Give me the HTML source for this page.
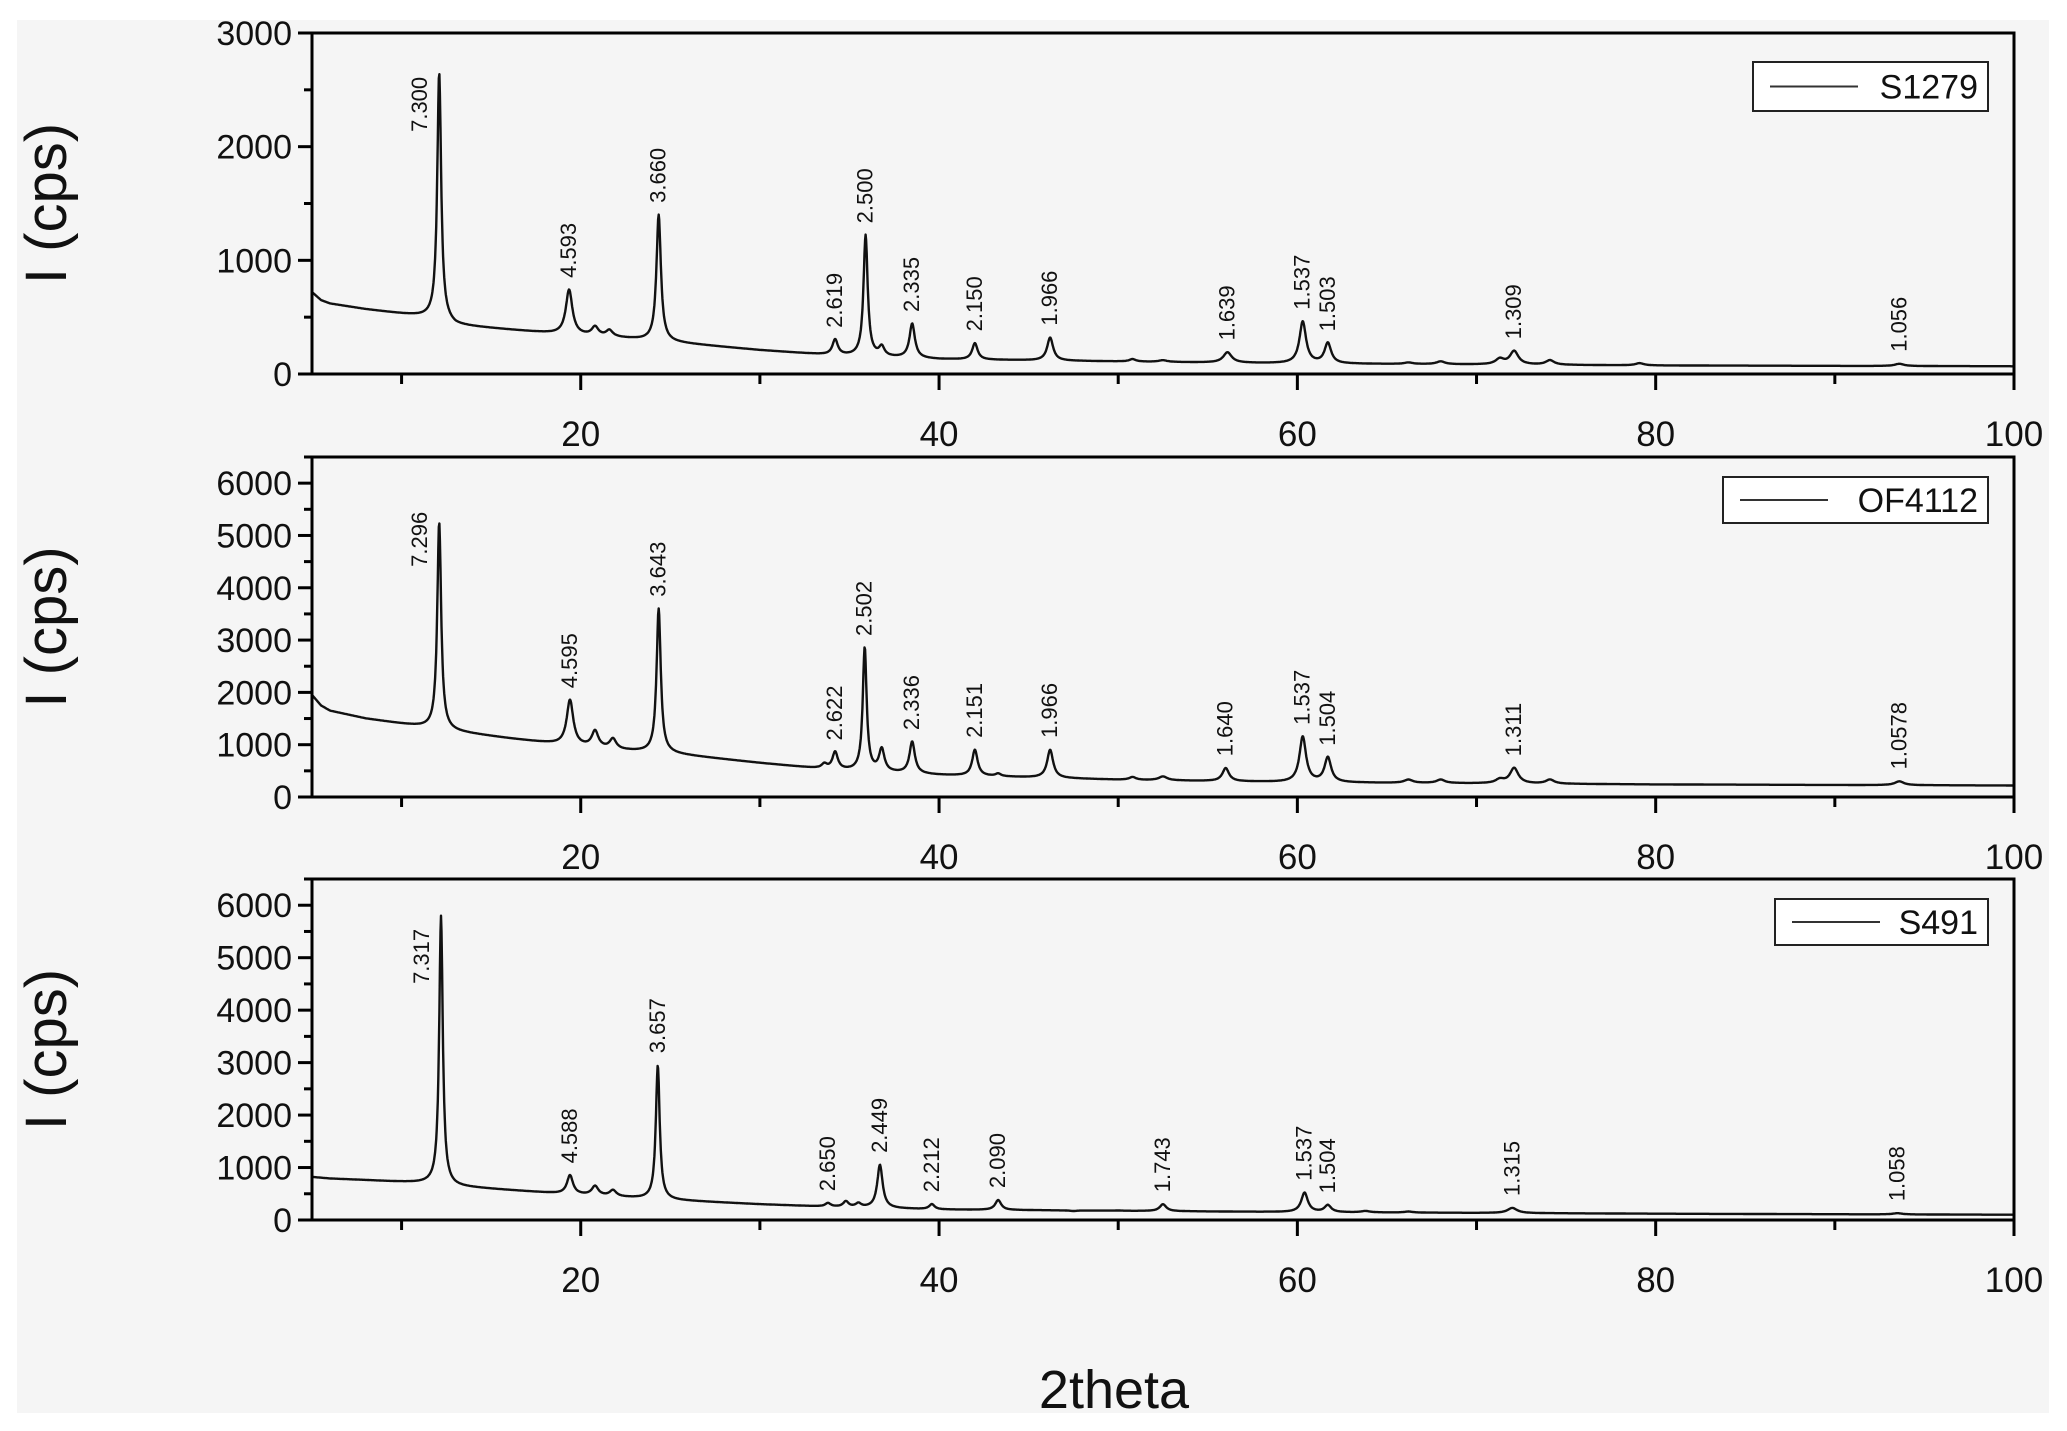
<!DOCTYPE html>
<html><head><meta charset="utf-8"><style>
html,body{margin:0;padding:0;background:#fff;}
svg{display:block;font-family:"Liberation Sans",Arial,sans-serif;}
</style></head><body>
<svg id="chart" width="2067" height="1431" viewBox="0 0 2067 1431" xmlns="http://www.w3.org/2000/svg">
<rect x="0" y="0" width="2067" height="1431" fill="#fff"/>
<rect x="17" y="20" width="2032" height="1393" fill="#f5f5f5"/>
<g id="root"></g>
<text x="1114" y="1408" font-size="54" text-anchor="middle" fill="#111">2theta</text>
</svg>
<script>
// ---- data ----
const sampleNames = ["S1279", "OF4112", "S491"];
const yMaxes = [3000, 6500, 6500];
const yTickLabels1 = [0, 1000, 2000, 3000];
const yTickLabels2 = [0, 1000, 2000, 3000, 4000, 5000, 6000];
const yTickLabels3 = [0, 1000, 2000, 3000, 4000, 5000, 6000];
const xTickLabels = [20, 40, 60, 80, 100];

// background control points (2theta, intensity)
const bg1X = [5, 5.5, 6, 8, 12, 13, 16, 19, 22, 25, 30, 34, 40, 50, 60, 80, 100];
const bg1Y = [720, 650, 620, 570, 490, 430, 390, 350, 320, 280, 210, 165, 130, 110, 92, 75, 68];
const bg2X = [5, 5.5, 6, 8, 12, 13, 16, 19, 22, 25, 30, 34, 40, 50, 60, 80, 100];
const bg2Y = [1950, 1750, 1650, 1500, 1300, 1250, 1120, 1000, 900, 830, 650, 520, 420, 330, 280, 240, 220];
const bg3X = [5, 6, 8, 12, 13, 16, 19, 22, 25, 30, 34, 40, 60, 80, 100];
const bg3Y = [820, 790, 760, 690, 640, 570, 500, 440, 380, 300, 250, 200, 150, 120, 100];

// peaks: position (2theta), apex intensity, HWHM, label
const pk1Pos = [12.1, 19.35, 24.35, 34.2, 35.9, 38.5, 42.0, 46.2, 56.1, 60.3, 61.7, 72.1, 93.6, 20.8, 21.6, 36.8, 50.8, 52.5, 66.2, 68.0, 71.3, 74.1, 79.1];
const pk1Top = [2650, 740, 1400, 300, 1220, 440, 270, 320, 190, 460, 270, 200, 90, 410, 380, 230, 130, 120, 100, 110, 130, 120, 95];
const pk1Wid = [0.13, 0.22, 0.15, 0.18, 0.14, 0.18, 0.18, 0.2, 0.28, 0.22, 0.22, 0.28, 0.3, 0.22, 0.22, 0.18, 0.22, 0.28, 0.28, 0.28, 0.28, 0.28, 0.28];
const pk1Lab = ["7.300","4.593","3.660","2.619","2.500","2.335","2.150","1.966","1.639","1.537","1.503","1.309","1.056","","","","","","","","","",""];
const lab1Bottom = [2130, null, null, null, null, null, null, null, null, null, null, null, null];

const pk2Pos = [12.1, 19.4, 24.35, 34.2, 35.85, 36.8, 38.5, 42.0, 46.2, 56.0, 60.3, 61.7, 72.1, 93.6, 20.8, 21.8, 33.6, 43.3, 50.8, 52.5, 66.2, 68.0, 71.3, 74.1];
const pk2Top = [5250, 1850, 3600, 850, 2850, 900, 1050, 900, 900, 550, 1150, 750, 550, 300, 1250, 1100, 620, 440, 380, 390, 330, 330, 330, 330];
const pk2Wid = [0.13, 0.22, 0.14, 0.18, 0.13, 0.18, 0.18, 0.18, 0.2, 0.22, 0.22, 0.22, 0.28, 0.3, 0.22, 0.22, 0.18, 0.18, 0.22, 0.28, 0.28, 0.28, 0.28, 0.28];
const pk2Lab = ["7.296","4.595","3.643","2.622","2.502","","2.336","2.151","1.966","1.640","1.537","1.504","1.311","1.0578","","","","","","","","","",""];
const lab2Bottom = [4400, null, null, null, null, null, null, null, null, null, null, null, null, null];

const pk3Pos = [12.2, 19.4, 24.3, 33.8, 34.8, 36.7, 39.6, 43.3, 52.5, 60.4, 61.7, 72.0, 93.5, 20.8, 21.8, 35.5, 50.0, 47.5, 63.8, 66.2];
const pk3Top = [5800, 850, 2950, 320, 350, 1050, 300, 380, 300, 520, 280, 230, 130, 640, 560, 310, 180, 170, 170, 160];
const pk3Wid = [0.12, 0.2, 0.13, 0.18, 0.18, 0.18, 0.18, 0.2, 0.22, 0.22, 0.22, 0.32, 0.3, 0.22, 0.22, 0.18, 0.22, 0.22, 0.28, 0.28];
const pk3Lab = ["7.317","4.588","3.657","2.650","","2.449","2.212","2.090","1.743","1.537","1.504","1.315","1.058","","","","","","",""];
const lab3Bottom = [4500, null, null, null, null, null, null, null, null, null, null, null, null];

// ---- layout ----
const NS = "http://www.w3.org/2000/svg";
const root = document.getElementById('root');
const X0 = 312, X1 = 2014, XMIN = 5, XMAX = 100;
const panels = [
  {top:33, bottom:374, bgX:bg1X, bgY:bg1Y, pos:pk1Pos, tops:pk1Top, wid:pk1Wid, lab:pk1Lab, labB:lab1Bottom, ticks:yTickLabels1, minorStep:500, leg:[1753,62,1988,111]},
  {top:457, bottom:797, bgX:bg2X, bgY:bg2Y, pos:pk2Pos, tops:pk2Top, wid:pk2Wid, lab:pk2Lab, labB:lab2Bottom, ticks:yTickLabels2, minorStep:500, leg:[1723,477,1988,523]},
  {top:879, bottom:1220, bgX:bg3X, bgY:bg3Y, pos:pk3Pos, tops:pk3Top, wid:pk3Wid, lab:pk3Lab, labB:lab3Bottom, ticks:yTickLabels3, minorStep:500, leg:[1775,899,1988,945]}
];
function xs(v){ return X0 + (v - XMIN) / (XMAX - XMIN) * (X1 - X0); }
function mk(tag, attrs, parent){
  const e = document.createElementNS(NS, tag);
  for (const k in attrs) e.setAttribute(k, attrs[k]);
  (parent || root).appendChild(e);
  return e;
}
function interp(xa, ya, x){
  if (x <= xa[0]) return ya[0];
  for (let i = 1; i < xa.length; i++){
    if (x <= xa[i]){ const t = (x - xa[i-1]) / (xa[i] - xa[i-1]); return ya[i-1] + t * (ya[i] - ya[i-1]); }
  }
  return ya[ya.length - 1];
}

panels.forEach((p, pi) => {
  const ymax = yMaxes[pi];
  const ys = v => p.bottom - v / ymax * (p.bottom - p.top);
  const g = mk('g', {});
  
  

  // spectrum
  const amps = p.pos.map((c, i) => p.tops[i] - interp(p.bgX, p.bgY, c));
  let d = '';
  for (let x = XMIN; x <= XMAX + 1e-9; x += 0.03){
    let y = interp(p.bgX, p.bgY, x);
    for (let i = 0; i < p.pos.length; i++){
      const u = (x - p.pos[i]) / p.wid[i];
      y += amps[i] / (1 + u * u);
    }
    d += (d ? 'L' : 'M') + xs(x).toFixed(1) + ',' + ys(y).toFixed(1);
  }
  const line = mk('path', {d:d, fill:'none', stroke:'#111', 'stroke-width':2.4, 'stroke-linejoin':'round'}, g);
  
  

  // peak labels
  p.pos.forEach((c, i) => {
    if (!p.lab[i]) return;
    let lx = xs(c) + 7, ly = ys(p.tops[i]) - 12;
    if (p.labB[i] != null){ lx = xs(c) - 12; ly = ys(p.labB[i]); }
    const t = mk('text', {x:lx, y:ly, transform:'rotate(-90 ' + lx + ' ' + ly + ')', 'font-size':22, fill:'#111'}, g);
    t.textContent = p.lab[i];
    
    
  });

  // axes box
  const box = mk('rect', {x:X0, y:p.top, width:X1 - X0, height:p.bottom - p.top, fill:'none', stroke:'#000', 'stroke-width':3}, g);
  
  

  // y ticks
  for (let v = 0; v <= ymax; v += p.minorStep){
    const major = v % 1000 === 0;
    mk('line', {x1:X0 - (major ? 14 : 8), x2:X0, y1:ys(v), y2:ys(v), stroke:'#000', 'stroke-width':3}, g);
  }
  p.ticks.forEach(v => {
    const t = mk('text', {x:X0 - 20, y:ys(v) + 12, 'font-size':34, 'text-anchor':'end', fill:'#111'}, g);
    t.textContent = v;
    
    
  });
  // x ticks
  for (let v = 10; v <= 100; v += 10){
    const major = v % 20 === 0;
    mk('line', {x1:xs(v), x2:xs(v), y1:p.bottom, y2:p.bottom + (major ? 16 : 10), stroke:'#000', 'stroke-width':3}, g);
  }
  xTickLabels.forEach(v => {
    const t = mk('text', {x:xs(v), y:p.bottom + 72, 'font-size':35, 'text-anchor':'middle', fill:'#111'}, g);
    t.textContent = v;
    
    
  });
  // y title
  const cy = (p.top + p.bottom) / 2;
  const yt = mk('text', {x:66, y:cy, transform:'rotate(-90 66 ' + cy + ')', 'font-size':58, 'text-anchor':'middle', fill:'#111'}, g);
  yt.textContent = 'I (cps)';
  
  

  // legend
  const [lx0, ly0, lx1, ly1] = p.leg;
  const lg = mk('g', {}, g);
  
  
  mk('rect', {x:lx0, y:ly0, width:lx1 - lx0, height:ly1 - ly0, fill:'#fff', stroke:'#222', 'stroke-width':2}, lg);
  mk('line', {x1:lx0 + 17, x2:lx0 + 105, y1:(ly0 + ly1) / 2, y2:(ly0 + ly1) / 2, stroke:'#333', 'stroke-width':2}, lg);
  const lt = mk('text', {x:lx1 - 10, y:(ly0 + ly1) / 2 + 12, 'font-size':34, 'text-anchor':'end', fill:'#111'}, lg);
  lt.textContent = sampleNames[pi];
});
</script>
</body></html>
